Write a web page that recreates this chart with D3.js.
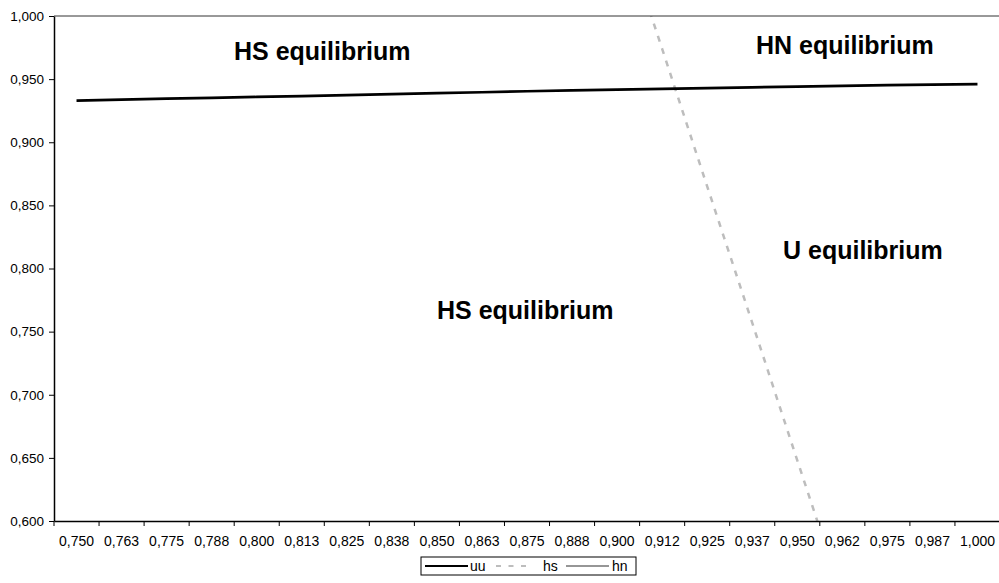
<!DOCTYPE html>
<html>
<head>
<meta charset="utf-8">
<script src="https://cdn.jsdelivr.net/npm/d3@7"></script>
<style>
  body { margin: 0; background: #fff; }
  svg { font-family: "Liberation Sans", Arial, sans-serif; }
</style>
</head>
<body>
<div id="chart"></div>
<script>
// categories on the x axis
const categories = ["0,750", "0,763", "0,775", "0,788", "0,800", "0,813", "0,825",
    "0,838", "0,850", "0,863", "0,875", "0,888", "0,900", "0,912", "0,925",
    "0,937", "0,950", "0,962", "0,975", "0,987", "1,000"];

// series values (null = no point)
const uuValues = [0.9330, 0.9337, 0.9345, 0.9352, 0.9359, 0.9366, 0.9374, 0.9381,
    0.9389, 0.9396, 0.9404, 0.9411, 0.9417, 0.9423, 0.9429, 0.9435, 0.9441,
    0.9447, 0.9452, 0.9457, 0.9461];
const hsValues = [null, null, null, null, null, null, null, null, null, null, null,
    null, 1.082, 0.974, 0.865, 0.757, 0.648, 0.540, null, null, null];
const hnValues = categories.map(() => null);

const yTicks = [0.60, 0.65, 0.70, 0.75, 0.80, 0.85, 0.90, 0.95, 1.00];

const W = 999, H = 583;
const margin = { top: 16, right: -1, bottom: 62, left: 54 };
const width = W - margin.left - margin.right,
    height = H - margin.top - margin.bottom;

const svg = d3.select("#chart").append("svg")
    .attr("width", W)
    .attr("height", H);

const g = svg.append("g")
    .attr("transform", `translate(${margin.left},${margin.top})`);

const x = d3.scaleBand()
    .domain(d3.range(categories.length))
    .range([0, width]);

const y = d3.scaleLinear()
    .domain([0.6, 1.0])
    .range([height, 0]);

const comma = v => d3.format(".3f")(v).replace(".", ",");

g.append("clipPath").attr("id", "plotclip")
    .append("rect").attr("width", width).attr("height", height);

// series lines
const line = d3.line()
    .defined(d => d != null)
    .x((d, i) => x(i) + x.bandwidth() / 2)
    .y(d => y(d));

g.append("path")
    .datum(hsValues)
    .attr("clip-path", "url(#plotclip)")
    .attr("fill", "none")
    .attr("stroke", "#bdbdbd")
    .attr("stroke-width", 2.5)
    .attr("stroke-dasharray", "6,7")
    .attr("d", line);

g.append("path")
    .datum(hnValues)
    .attr("fill", "none")
    .attr("stroke", "#969696")
    .attr("stroke-width", 2)
    .attr("d", line);

g.append("path")
    .datum(uuValues)
    .attr("clip-path", "url(#plotclip)")
    .attr("fill", "none")
    .attr("stroke", "#000")
    .attr("stroke-width", 2.7)
    .attr("d", line);

// top border of plot area
g.append("line")
    .attr("x1", 0).attr("x2", width)
    .attr("y1", 0).attr("y2", 0)
    .attr("stroke", "#333").attr("stroke-width", 1);

// x axis (ticks between categories)
const xAxis = g.append("g")
    .attr("transform", `translate(0,${height})`)
    .call(d3.axisBottom(x).tickFormat(i => categories[i]).tickSize(0).tickPadding(15));
xAxis.select(".domain").attr("stroke", "#000").attr("stroke-width", 1.5);
xAxis.selectAll("text").attr("font-size", 14).attr("fill", "#000");
xAxis.selectAll(".tickmark")
    .data(d3.range(categories.length + 1))
    .enter().append("line")
    .attr("x1", i => i * x.step()).attr("x2", i => i * x.step())
    .attr("y1", 0).attr("y2", 5)
    .attr("stroke", "#000");

// y axis
const yAxis = g.append("g")
    .call(d3.axisLeft(y).tickValues(yTicks).tickFormat(comma).tickSize(5).tickSizeOuter(0).tickPadding(5));
yAxis.select(".domain").attr("stroke", "#000").attr("stroke-width", 1.5);
yAxis.selectAll("text").attr("font-size", 13.5).attr("fill", "#000");

// region labels
const labels = [
    { t: "HS equilibrium", x: 234, y: 60 },
    { t: "HN equilibrium", x: 756, y: 54 },
    { t: "U equilibrium", x: 783, y: 259 },
    { t: "HS equilibrium", x: 437, y: 319 }
];
svg.selectAll(".region")
    .data(labels)
    .enter().append("text")
    .attr("class", "region")
    .attr("x", d => d.x)
    .attr("y", d => d.y)
    .attr("font-size", 25)
    .attr("font-weight", "bold")
    .text(d => d.t);

// legend
const legend = svg.append("g").attr("transform", "translate(421,557)");
legend.append("rect")
    .attr("width", 215).attr("height", 18)
    .attr("fill", "#fff").attr("stroke", "#000");
const legendItems = [
    { name: "uu", color: "#000", dash: null, x0: 4, x1: 47, tx: 49 },
    { name: "hs", color: "#bdbdbd", dash: "5,7.5", x0: 75, x1: 112, tx: 122 },
    { name: "hn", color: "#969696", dash: null, x0: 145, x1: 188, tx: 191 }
];
legendItems.forEach(d => {
    legend.append("line")
        .attr("x1", d.x0).attr("x2", d.x1)
        .attr("y1", 9).attr("y2", 9)
        .attr("stroke", d.color).attr("stroke-width", 2)
        .attr("stroke-dasharray", d.dash);
    legend.append("text")
        .attr("x", d.tx).attr("y", 14)
        .attr("font-size", 14)
        .text(d.name);
});
</script>
</body>
</html>
